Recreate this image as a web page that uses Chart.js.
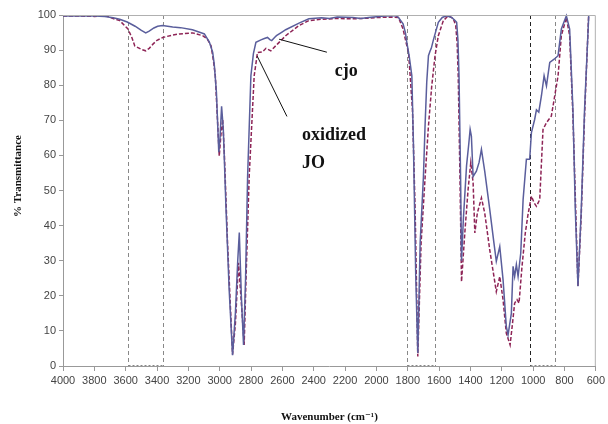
<!DOCTYPE html>
<html>
<head>
<meta charset="utf-8">
<script src="https://cdn.jsdelivr.net/npm/chart.js@4.4.1/dist/chart.umd.min.js"></script>
<style>
  html, body { margin: 0; padding: 0; background: #fff; }
  #wrap { width: 608px; height: 424px; }
</style>
</head>
<body>
<div id="wrap"><canvas id="irChart" width="608" height="424"></canvas></div>
<script>
// wavenumber (cm-1) and % transmittance
let cjoWn = [4000, 3900, 3800, 3733, 3680, 3638, 3590, 3540, 3500, 3472, 3450, 3420, 3396, 3365, 3300, 3250, 3174, 3110, 3098, 3066, 3045, 3035, 3021, 3006, 2998, 2988, 2977, 2960, 2940, 2918, 2900, 2885, 2875, 2862, 2848, 2835, 2822, 2801, 2785, 2769, 2737, 2715, 2695, 2680, 2668, 2650, 2638, 2600, 2579, 2494, 2431, 2350, 2300, 2250, 2150, 2100, 2050, 2000, 1950, 1878, 1859, 1830, 1815, 1806, 1790, 1774, 1764, 1749, 1736, 1721, 1700, 1690, 1679, 1668, 1657, 1650, 1636, 1605, 1580, 1552, 1520, 1500, 1488, 1480, 1473, 1463, 1457, 1445, 1425, 1410, 1402, 1394, 1383, 1362, 1345, 1330, 1309, 1277, 1250, 1235, 1213, 1192, 1171, 1160, 1139, 1128, 1118, 1107, 1096, 1079, 1064, 1043, 1022, 1011, 990, 979, 964, 947, 930, 915, 894, 866, 841, 820, 788, 767, 746, 731, 714, 693, 672, 645];
let cjoT = [99.7, 99.8, 99.7, 99.6, 99.2, 98.8, 98.0, 96.8, 95.6, 94.9, 95.4, 96.3, 96.8, 97.0, 96.6, 96.4, 95.8, 94.8, 94.6, 92.3, 89.4, 86, 78, 60.9, 65, 74, 67.4, 45, 22, 3.1, 15, 30, 38, 20, 6, 25, 54, 82.7, 89, 92.2, 92.9, 93.3, 93.6, 93.0, 92.7, 93.6, 94.1, 95.2, 95.8, 97.7, 98.9, 99.2, 99.0, 99.4, 99.3, 99.0, 99.3, 99.5, 99.7, 99.8, 99.3, 97.5, 95, 92.2, 88, 82.7, 63.6, 25.5, 3.7, 35, 54, 68, 80.8, 88.4, 89.8, 90.5, 93, 97.9, 99.3, 99.8, 99.3, 98.5, 97.9, 93, 82.7, 54, 30, 42, 57, 63.6, 67.4, 65.5, 54, 55.5, 58, 61.7, 55.5, 44.6, 35, 29.8, 34, 24.6, 11.2, 8.9, 15, 28.4, 25.5, 28.9, 25.5, 32.2, 47.4, 58.9, 58.9, 66.5, 70.3, 73, 72.3, 77, 82.7, 79.8, 86.5, 87.4, 88.4, 96, 99.8, 96, 73, 44.6, 22.7, 44.6, 73, 100];

let oxWn = [4000, 3900, 3800, 3722, 3680, 3638, 3585, 3560, 3542, 3500, 3472, 3450, 3426, 3400, 3363, 3300, 3257, 3172, 3109, 3080, 3055, 3040, 3028, 3003, 2992, 2981, 2970, 2950, 2918, 2900, 2880, 2865, 2844, 2830, 2812, 2780, 2759, 2727, 2705, 2674, 2632, 2579, 2494, 2431, 2350, 2250, 2150, 2050, 1986, 1900, 1859, 1830, 1810, 1795, 1770, 1753, 1736, 1715, 1689, 1668, 1647, 1626, 1605, 1573, 1541, 1510, 1494, 1485, 1478, 1467, 1457, 1436, 1415, 1398, 1383, 1372, 1356, 1330, 1309, 1277, 1235, 1213, 1192, 1171, 1147, 1134, 1118, 1103, 1090, 1071, 1050, 1033, 1011, 994, 979, 958, 937, 915, 884, 862, 841, 820, 788, 767, 746, 714, 693, 672, 646];
let oxT = [99.7, 99.7, 99.6, 99.7, 99.0, 98.4, 96, 93.5, 91.2, 90.2, 89.8, 90.5, 91.7, 92.8, 93.6, 94.3, 94.6, 94.9, 94.1, 93.2, 91.2, 87, 82.7, 59.8, 66, 70.3, 60, 35, 3.3, 12, 29.4, 20, 6, 28, 54, 82.7, 89.3, 89.5, 90.5, 89.8, 91.7, 94.1, 97, 98.4, 98.8, 99.0, 98.9, 99.1, 99.3, 99.4, 99.3, 96, 92, 89.3, 73, 44.6, 2.7, 35, 54, 68.4, 79.8, 88.4, 94.1, 98.4, 99.8, 99, 97, 92, 82.7, 54, 24, 37.9, 50.3, 57.9, 52.2, 37.9, 43.6, 47.9, 43.6, 33.1, 21.2, 25.5, 18.9, 9.3, 6, 11.2, 17.9, 18.9, 17.9, 28.4, 37.9, 43.1, 48.4, 46.5, 45.5, 47.4, 67.4, 69.3, 71.2, 77, 82.7, 94.1, 99.3, 94.1, 71.2, 22.7, 43, 71, 99.8];

let xTicks = [4000, 3800, 3600, 3400, 3200, 3000, 2800, 2600, 2400, 2200, 2000, 1800, 1600, 1400, 1200, 1000, 800, 600];
let yTicks = [0, 10, 20, 30, 40, 50, 60, 70, 80, 90, 100];

// dashed boxes [from, to] in cm-1
let boxes = [[3587, 3365], [1802, 1624], [1020, 862]];

function toPoints(xs, ys) {
  return xs.map((x, i) => ({ x: x, y: ys[i] }));
}

const serif = '"Liberation Serif", "DejaVu Serif", serif';
const sans = '"Liberation Sans", Arial, sans-serif';

// boxes, border, pointers, labels
const extras = {
  id: 'extras',
  beforeDatasetsDraw(chart) {
    const ctx = chart.ctx;
    const xs = chart.scales.x;
    const top = chart.chartArea.top, bottom = chart.chartArea.bottom;
    ctx.save();
    ctx.lineWidth = 1;
    boxes.forEach((b, i) => {
      const x1 = Math.round(xs.getPixelForValue(b[0])) + 0.5;
      const x2 = Math.round(xs.getPixelForValue(b[1])) + 0.5;
      ctx.strokeStyle = i === 2 ? '#222' : '#888';
      ctx.setLineDash([4, 3]);
      ctx.beginPath();
      ctx.moveTo(x1, top); ctx.lineTo(x1, bottom);
      ctx.stroke();
      ctx.strokeStyle = '#888';
      ctx.beginPath();
      ctx.moveTo(x2, top); ctx.lineTo(x2, bottom);
      ctx.stroke();
      ctx.setLineDash([2, 2]);
      ctx.beginPath();
      ctx.moveTo(x1, top + 0.5); ctx.lineTo(x2, top + 0.5);
      ctx.moveTo(x1, bottom - 0.5); ctx.lineTo(x2, bottom - 0.5);
      ctx.stroke();
    });
    ctx.restore();
  },
  afterDraw(chart) {
    const ctx = chart.ctx;
    const xs = chart.scales.x, ys = chart.scales.y;
    const a = chart.chartArea;
    ctx.save();
    // top and right frame
    ctx.strokeStyle = '#b0b0b0';
    ctx.lineWidth = 1;
    ctx.beginPath();
    ctx.moveTo(a.left, a.top + 0.5);
    ctx.lineTo(a.right - 0.5, a.top + 0.5);
    ctx.lineTo(a.right - 0.5, a.bottom);
    ctx.stroke();

    // pointer lines
    ctx.strokeStyle = '#111';
    ctx.beginPath();
    ctx.moveTo(xs.getPixelForValue(2621), ys.getPixelForValue(93.1));
    ctx.lineTo(xs.getPixelForValue(2316), ys.getPixelForValue(89.4));
    ctx.moveTo(xs.getPixelForValue(2761), ys.getPixelForValue(88.3));
    ctx.lineTo(xs.getPixelForValue(2571), ys.getPixelForValue(71.1));
    ctx.stroke();

    ctx.fillStyle = '#111';
    ctx.font = 'bold 18px ' + serif;
    ctx.textAlign = 'left';
    ctx.textBaseline = 'alphabetic';
    ctx.fillText('cjo', xs.getPixelForValue(2266), ys.getPixelForValue(82.6));
    ctx.fillText('oxidized', xs.getPixelForValue(2475), ys.getPixelForValue(64.3));
    ctx.fillText('JO', xs.getPixelForValue(2475), ys.getPixelForValue(56.3));

    // y axis title
    ctx.font = 'bold 11px ' + serif;
    ctx.textAlign = 'center';
    ctx.textBaseline = 'middle';
    ctx.translate(18, 176);
    ctx.rotate(-Math.PI / 2);
    ctx.fillText('% Transmittance', 0, 0);
    ctx.restore();
  }
};

let irChart = new Chart(document.getElementById('irChart').getContext('2d'), {
  type: 'line',
  data: {
    datasets: [
      {
        label: 'cjo',
        data: toPoints(cjoWn, cjoT),
        borderColor: '#5a5e9c',
        borderWidth: 1.5,
        pointRadius: 0,
        fill: false,
        tension: 0
      },
      {
        label: 'oxidized JO',
        data: toPoints(oxWn, oxT),
        borderColor: '#8e2456',
        borderWidth: 1.5,
        borderDash: [4, 2],
        pointRadius: 0,
        fill: false,
        tension: 0
      }
    ]
  },
  options: {
    responsive: false,
    animation: false,
    clip: false,
    layout: { padding: { left: 0, right: 8, top: 15, bottom: 0 } },
    plugins: {
      legend: { display: false },
      tooltip: { enabled: false }
    },
    scales: {
      x: {
        type: 'linear',
        reverse: true,
        min: 600,
        max: 4000,
        afterBuildTicks: (s) => { s.ticks = xTicks.map(v => ({ value: v })); },
        afterFit: (s) => { s.height = 58; },
        ticks: {
          callback: (v) => String(v),
          font: { family: sans, size: 11 },
          color: '#444',
          padding: 3,
          maxRotation: 0,
          autoSkip: false
        },
        grid: { drawOnChartArea: false, tickLength: 5, color: '#999' },
        border: { color: '#999' },
        title: {
          display: true,
          text: 'Wavenumber (cm\u207B\u00B9)',
          font: { family: serif, size: 11, weight: 'bold', lineHeight: 1 },
          color: '#111',
          padding: { top: 0, bottom: 1 }
        }
      },
      y: {
        min: 0,
        max: 100,
        afterBuildTicks: (s) => { s.ticks = yTicks.map(v => ({ value: v })); },
        afterFit: (s) => { s.width = 63; },
        ticks: {
          font: { family: sans, size: 11 },
          color: '#444',
          padding: 3
        },
        grid: { drawOnChartArea: false, tickLength: 4, color: '#999' },
        border: { color: '#999' }
      }
    }
  },
  plugins: [extras]
});
</script>
</body>
</html>
